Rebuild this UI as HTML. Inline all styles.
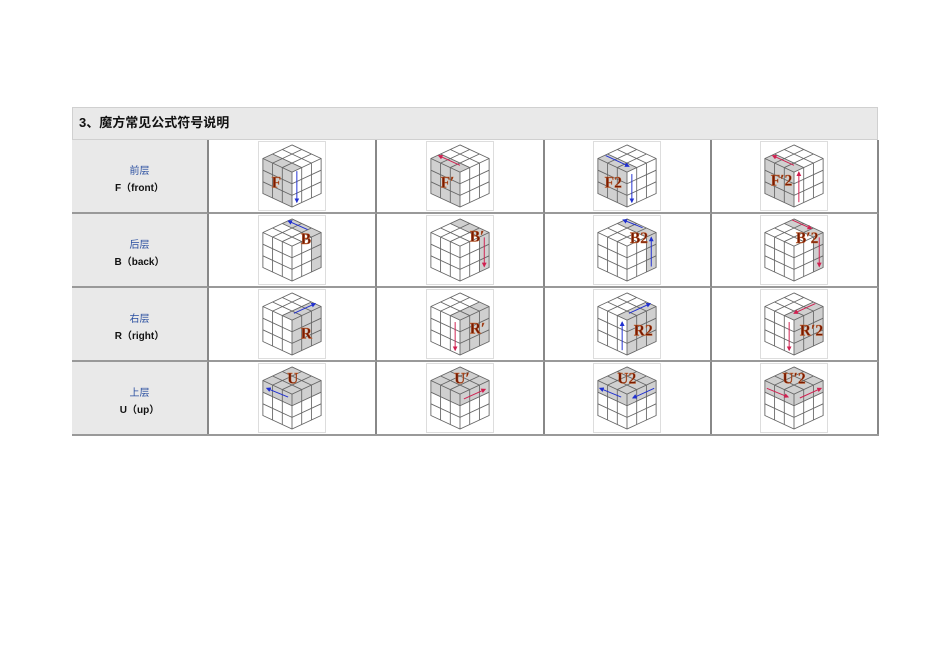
<!DOCTYPE html>
<html><head><meta charset="utf-8"><style>
body{margin:0;background:#fff;width:950px;height:672px;position:relative;overflow:hidden;font-family:"Liberation Sans","Noto Sans CJK SC",sans-serif}
.a{position:absolute;box-sizing:border-box}
.hd{left:72px;top:107px;width:806px;height:33px;background:#e9e9e9;border:1px solid #d0d0d0;font-size:13px;font-weight:bold;line-height:30px;padding-left:6px;color:#111}
.lab{left:72px;width:137px;height:74px;background:#e9e9e9;border-right:2px solid #888;border-bottom:2px solid #999;text-align:center;font-size:10px;color:#2a4fa0;padding-top:23px;line-height:17px}
.lab span{color:#111;font-weight:bold}
.cell{height:74px;border-right:2px solid #888;border-bottom:2px solid #999;background:#fff}
svg.c{position:absolute;width:68px;height:70px;border:1px solid #ddd;background:#fff;box-sizing:border-box}
svg text{font-family:"Liberation Serif",serif;font-weight:bold;font-size:16px;fill:#7a1a00;stroke:#c87040;stroke-width:0.4}
</style></head><body>
<svg width="0" height="0" style="position:absolute"><defs>
<g id="g" fill="none" stroke="#666" stroke-width="0.9">
<polygon points="34,3 64,17 64,53 34,67 4,53 4,17"/>
<polyline points="4,17 34,31 64,17"/><line x1="34" y1="31" x2="34" y2="67"/>
<line x1="14" y1="21.7" x2="14" y2="57.7"/><line x1="24" y1="26.3" x2="24" y2="62.3"/>
<line x1="4" y1="29" x2="34" y2="43"/><line x1="4" y1="41" x2="34" y2="55"/>
<line x1="44" y1="26.3" x2="44" y2="62.3"/><line x1="54" y1="21.7" x2="54" y2="57.7"/>
<line x1="34" y1="43" x2="64" y2="29"/><line x1="34" y1="55" x2="64" y2="41"/>
<line x1="44" y1="7.7" x2="14" y2="21.7"/><line x1="54" y1="12.3" x2="24" y2="26.3"/>
<line x1="24" y1="7.7" x2="54" y2="21.7"/><line x1="14" y1="12.3" x2="44" y2="26.3"/>
</g>
<marker id="mb" markerWidth="5" markerHeight="5" refX="4" refY="2.5" orient="auto"><path d="M0,0 L5,2.5 L0,5z" fill="#2030d0"/></marker>
<marker id="mr" markerWidth="5" markerHeight="5" refX="4" refY="2.5" orient="auto"><path d="M0,0 L5,2.5 L0,5z" fill="#d02050"/></marker>
</defs></svg>

<div class="a hd">3、魔方常见公式符号说明</div>

<div class="a lab" style="top:140px">前层<br><span>F（front）</span></div>
<div class="a lab" style="top:214px">后层<br><span>B（back）</span></div>
<div class="a lab" style="top:288px">右层<br><span>R（right）</span></div>
<div class="a lab" style="top:362px">上层<br><span>U（up）</span></div>

<div class="a cell" style="left:209px;top:140px;width:168px"></div>
<div class="a cell" style="left:377px;top:140px;width:168px"></div>
<div class="a cell" style="left:545px;top:140px;width:167px"></div>
<div class="a cell" style="left:712px;top:140px;width:167px"></div>
<div class="a cell" style="left:209px;top:214px;width:168px"></div>
<div class="a cell" style="left:377px;top:214px;width:168px"></div>
<div class="a cell" style="left:545px;top:214px;width:167px"></div>
<div class="a cell" style="left:712px;top:214px;width:167px"></div>
<div class="a cell" style="left:209px;top:288px;width:168px"></div>
<div class="a cell" style="left:377px;top:288px;width:168px"></div>
<div class="a cell" style="left:545px;top:288px;width:167px"></div>
<div class="a cell" style="left:712px;top:288px;width:167px"></div>
<div class="a cell" style="left:209px;top:362px;width:168px"></div>
<div class="a cell" style="left:377px;top:362px;width:168px"></div>
<div class="a cell" style="left:545px;top:362px;width:167px"></div>
<div class="a cell" style="left:712px;top:362px;width:167px"></div>
<div class="a" style="left:72px;top:434px;width:807px;height:2px;background:#999"></div>

<!-- F row -->
<svg class="c" style="left:258px;top:141px" viewBox="0 0 68 70"><polygon points="4,17 34,31 34,67 4,53" fill="#d0d0d0"/><polygon points="14,12.3 44,26.3 34,31 4,17" fill="#d0d0d0"/><use href="#g"/><line x1="39" y1="30" x2="39" y2="62" stroke="#2030d0" marker-end="url(#mb)"/><text x="13" y="47">F</text></svg>
<svg class="c" style="left:426px;top:141px" viewBox="0 0 68 70"><polygon points="4,17 34,31 34,67 4,53" fill="#d0d0d0"/><polygon points="14,12.3 44,26.3 34,31 4,17" fill="#d0d0d0"/><use href="#g"/><line x1="34" y1="24" x2="12" y2="14" stroke="#d02050" marker-end="url(#mr)"/><text x="14" y="47">F′</text></svg>
<svg class="c" style="left:593px;top:141px" viewBox="0 0 68 70"><polygon points="4,17 34,31 34,67 4,53" fill="#d0d0d0"/><polygon points="14,12.3 44,26.3 34,31 4,17" fill="#d0d0d0"/><use href="#g"/><line x1="12" y1="14" x2="36" y2="25" stroke="#2030d0" marker-end="url(#mb)"/><line x1="39" y1="33" x2="39" y2="62" stroke="#2030d0" marker-end="url(#mb)"/><text x="11" y="47">F2</text></svg>
<svg class="c" style="left:760px;top:141px" viewBox="0 0 68 70"><polygon points="4,17 34,31 34,67 4,53" fill="#d0d0d0"/><polygon points="14,12.3 44,26.3 34,31 4,17" fill="#d0d0d0"/><use href="#g"/><line x1="34" y1="24" x2="12" y2="14" stroke="#d02050" marker-end="url(#mr)"/><line x1="39" y1="62" x2="39" y2="31" stroke="#d02050" marker-end="url(#mr)"/><text x="10" y="45">F′2</text></svg>

<!-- B row -->
<svg class="c" style="left:258px;top:215px" viewBox="0 0 68 70"><polygon points="54,21.7 64,17 64,53 54,57.7" fill="#d0d0d0"/><polygon points="34,3 64,17 54,21.7 24,7.7" fill="#d0d0d0"/><use href="#g"/><line x1="50" y1="14" x2="30" y2="5" stroke="#2030d0" marker-end="url(#mb)"/><text x="43" y="29">B</text></svg>
<svg class="c" style="left:426px;top:215px" viewBox="0 0 68 70"><polygon points="54,21.7 64,17 64,53 54,57.7" fill="#d0d0d0"/><polygon points="34,3 64,17 54,21.7 24,7.7" fill="#d0d0d0"/><use href="#g"/><line x1="59" y1="22" x2="59" y2="52" stroke="#d02050" marker-end="url(#mr)"/><text x="44" y="26">B′</text></svg>
<svg class="c" style="left:593px;top:215px" viewBox="0 0 68 70"><polygon points="54,21.7 64,17 64,53 54,57.7" fill="#d0d0d0"/><polygon points="34,3 64,17 54,21.7 24,7.7" fill="#d0d0d0"/><use href="#g"/><line x1="50" y1="12" x2="30" y2="4" stroke="#2030d0" marker-end="url(#mb)"/><line x1="59" y1="52" x2="59" y2="22" stroke="#2030d0" marker-end="url(#mb)"/><text x="37" y="28">B2</text></svg>
<svg class="c" style="left:760px;top:215px" viewBox="0 0 68 70"><polygon points="54,21.7 64,17 64,53 54,57.7" fill="#d0d0d0"/><polygon points="34,3 64,17 54,21.7 24,7.7" fill="#d0d0d0"/><use href="#g"/><line x1="32" y1="4" x2="52" y2="13" stroke="#d02050" marker-end="url(#mr)"/><line x1="60" y1="22" x2="60" y2="52" stroke="#d02050" marker-end="url(#mr)"/><text x="36" y="28">B′2</text></svg>

<!-- R row -->
<svg class="c" style="left:258px;top:289px" viewBox="0 0 68 70"><polygon points="34,31 64,17 64,53 34,67" fill="#d0d0d0"/><polygon points="54,12.3 64,17 34,31 24,26.3" fill="#d0d0d0"/><use href="#g"/><line x1="36" y1="24" x2="58" y2="14" stroke="#2030d0" marker-end="url(#mb)"/><text x="43" y="50">R</text></svg>
<svg class="c" style="left:426px;top:289px" viewBox="0 0 68 70"><polygon points="34,31 64,17 64,53 34,67" fill="#d0d0d0"/><polygon points="54,12.3 64,17 34,31 24,26.3" fill="#d0d0d0"/><use href="#g"/><line x1="29" y1="33" x2="29" y2="62" stroke="#d02050" marker-end="url(#mr)"/><text x="44" y="45">R′</text></svg>
<svg class="c" style="left:593px;top:289px" viewBox="0 0 68 70"><polygon points="34,31 64,17 64,53 34,67" fill="#d0d0d0"/><polygon points="54,12.3 64,17 34,31 24,26.3" fill="#d0d0d0"/><use href="#g"/><line x1="36" y1="24" x2="58" y2="14" stroke="#2030d0" marker-end="url(#mb)"/><line x1="29" y1="62" x2="29" y2="33" stroke="#2030d0" marker-end="url(#mb)"/><text x="41" y="47">R2</text></svg>
<svg class="c" style="left:760px;top:289px" viewBox="0 0 68 70"><polygon points="34,31 64,17 64,53 34,67" fill="#d0d0d0"/><polygon points="54,12.3 64,17 34,31 24,26.3" fill="#d0d0d0"/><use href="#g"/><line x1="56" y1="14" x2="34" y2="24" stroke="#d02050" marker-end="url(#mr)"/><line x1="29" y1="33" x2="29" y2="62" stroke="#d02050" marker-end="url(#mr)"/><text x="40" y="47">R′2</text></svg>

<!-- U row -->
<svg class="c" style="left:258px;top:363px" viewBox="0 0 68 70"><polygon points="34,3 64,17 64,29 34,43 4,29 4,17" fill="#d0d0d0"/><use href="#g"/><line x1="30" y1="34" x2="8" y2="25" stroke="#2030d0" marker-end="url(#mb)"/><text x="29" y="20">U</text></svg>
<svg class="c" style="left:426px;top:363px" viewBox="0 0 68 70"><polygon points="34,3 64,17 64,29 34,43 4,29 4,17" fill="#d0d0d0"/><use href="#g"/><line x1="38" y1="36" x2="60" y2="26" stroke="#d02050" marker-end="url(#mr)"/><text x="28" y="20">U′</text></svg>
<svg class="c" style="left:593px;top:363px" viewBox="0 0 68 70"><polygon points="34,3 64,17 64,29 34,43 4,29 4,17" fill="#d0d0d0"/><use href="#g"/><line x1="28" y1="34" x2="6" y2="25" stroke="#2030d0" marker-end="url(#mb)"/><line x1="62" y1="25" x2="40" y2="35" stroke="#2030d0" marker-end="url(#mb)"/><text x="24" y="20">U2</text></svg>
<svg class="c" style="left:760px;top:363px" viewBox="0 0 68 70"><polygon points="34,3 64,17 64,29 34,43 4,29 4,17" fill="#d0d0d0"/><use href="#g"/><line x1="6" y1="25" x2="28" y2="34" stroke="#d02050" marker-end="url(#mr)"/><line x1="40" y1="35" x2="62" y2="25" stroke="#d02050" marker-end="url(#mr)"/><text x="22" y="20">U′2</text></svg>
</body></html>
